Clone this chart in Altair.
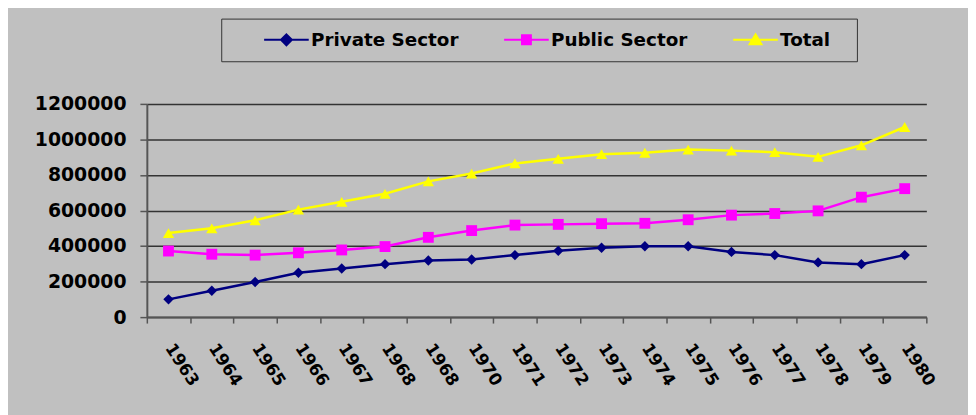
import altair as alt
import pandas as pd

years = ["1963", "1964", "1965", "1966", "1967", "1968", "1968", "1970", "1971",
         "1972", "1973", "1974", "1975", "1976", "1977", "1978", "1979", "1980"]
private_sector = [100000, 148000, 198000, 250000, 274000, 298000, 319000, 324000, 349000,
                  373000, 390000, 399000, 399000, 367000, 349000, 308000, 298000, 349000]
public_sector = [372000, 354000, 349000, 362000, 378000, 397000, 449000, 487000, 518000,
                 522000, 526000, 528000, 548000, 574000, 583000, 598000, 675000, 723000]
total = [473000, 500000, 545000, 605000, 649000, 694000, 764000, 808000, 865000,
         891000, 917000, 925000, 943000, 937000, 928000, 902000, 967000, 1070000]

series_names = ["Private Sector", "Public Sector", "Total"]
series_values = [private_sector, public_sector, total]
colors = ["#000080", "#FF00FF", "#FFFF00"]
marker_shapes = ["diamond", "square", "triangle-up"]
marker_sizes = [110, 130, 150]
legend_shapes = [
    "M4.4,0H13.4M8.9,-1.1L10,0L8.9,1.1L7.8,0Z",
    "M4.4,0H13.4M8,-0.9H9.8V0.9H8Z",
    "M4.4,0H13.4M8.9,-1.1L10.1,0.9L7.7,0.9Z",
]

rows = []
for name, vals in zip(series_names, series_values):
    for i, v in enumerate(vals):
        rows.append({"idx": i, "year": years[i], "series": name, "value": v})
df = pd.DataFrame(rows)

label_expr = "[" + ",".join("'%s'" % y for y in years) + "][datum.value]"

FONT = "DejaVu Sans"

x_enc = alt.X(
    "idx:O",
    scale=alt.Scale(type="band", paddingInner=0, paddingOuter=0),
    axis=alt.Axis(
        title=None,
        labelExpr=label_expr,
        labelAngle=57,
        labelAlign="left",
        labelBaseline="middle",
        labelFont=FONT,
        labelFontWeight="bold",
        labelFontSize=17,
        labelColor="#000000",
        labelPadding=22,
        tickBand="extent",
        tickSize=6,
        tickColor="#555555",
        tickWidth=1.5,
        domainColor="#555555",
        domainWidth=2,
        grid=False,
    ),
)
y_enc = alt.Y(
    "value:Q",
    scale=alt.Scale(domain=[0, 1200000], nice=False),
    axis=alt.Axis(
        title=None,
        values=[0, 200000, 400000, 600000, 800000, 1000000, 1200000],
        format="d",
        labelFont=FONT,
        labelFontWeight="bold",
        labelFontSize=19,
        labelColor="#000000",
        labelPadding=14,
        tickSize=7,
        tickColor="#555555",
        tickWidth=1.5,
        domainColor="#555555",
        domainWidth=2,
        grid=True,
        gridColor="#333333",
        gridWidth=1.5,
    ),
)

color_scale = alt.Scale(domain=series_names, range=colors)

lines = alt.Chart(df).mark_line(strokeWidth=2.5).encode(
    x=x_enc, y=y_enc,
    color=alt.Color("series:N", scale=color_scale, legend=None),
    detail="series:N",
)

points = alt.Chart(df).mark_point(filled=True, opacity=1).encode(
    x=x_enc, y=y_enc,
    color=alt.Color("series:N", scale=color_scale, legend=None),
    shape=alt.Shape("series:N", scale=alt.Scale(domain=series_names, range=marker_shapes), legend=None),
    size=alt.Size("series:N", scale=alt.Scale(domain=series_names, range=marker_sizes), legend=None),
)

legend_props = dict(
    title=None,
    orient="none",
    legendX=75,
    legendY=-86,
    direction="horizontal",
    padding=12,
    columnPadding=14,
    labelOffset=60,
    labelFont=FONT,
    labelFontWeight="bold",
    labelFontSize=18.5,
    labelColor="#000000",
    labelExpr="datum.value == 'Total' ? 'Total\u2800' : datum.value",
    symbolSize=100,
    symbolStrokeWidth=2,
    strokeColor="#333333",
    fillColor="#C0C0C0",
)

legend_layer = alt.Chart(df).transform_filter("false").mark_point(
    filled=True, opacity=1, size=100, strokeWidth=2
).encode(
    x=x_enc, y=y_enc,
    color=alt.Color("series:N", scale=alt.Scale(domain=series_names, range=colors),
                    legend=alt.Legend(**legend_props)),
    stroke=alt.Stroke("series:N", scale=alt.Scale(domain=series_names, range=colors),
                      legend=alt.Legend(**legend_props)),
    shape=alt.Shape("series:N", scale=alt.Scale(domain=series_names, range=legend_shapes),
                    legend=alt.Legend(**legend_props)),
)

chart = alt.layer(lines, points, legend_layer).resolve_scale(
    color="independent", shape="independent", stroke="independent", size="independent"
).properties(
    width=786,
    height=215,
    padding={"left": 140, "top": 95, "right": 42, "bottom": 97},
    autosize=alt.AutoSizeParams(type="none"),
    background="#C0C0C0",
).configure_view(stroke=None)

chart.save("out.html", embed_options={"renderer": "svg", "actions": False})
